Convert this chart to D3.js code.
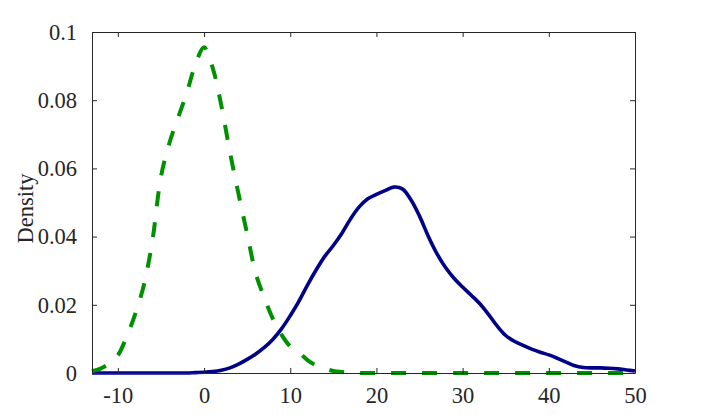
<!DOCTYPE html>
<html>
<head>
<meta charset="utf-8">
<script src="https://cdn.jsdelivr.net/npm/d3@7"></script>
<style>
  html, body { margin: 0; padding: 0; background: #fff; }
  svg { display: block; }
  svg text { font-family: "Liberation Serif", "Times New Roman", serif !important; fill: #262626; }
</style>
</head>
<body>
<svg id="chart" width="703" height="418"></svg>
<script>
// ---- data ----
const xGrid = [-13,-12,-11,-10,-9,-8,-7,-6,-5,-4,-3,-2,-1,0,1,2,3,4,5,6,7,8,9,10,
  11,12,13,14,15,16,17,18,19,20,21,22,23,24,25,26,27,28,29,30,31,32,33,34,35,36,37,38,39,40,
  41,42,43,44,45,46,47,48,49,50];

const blueDensity = [0,0,0,0,0,0,0,0,0,0,0,0,0.0001,0.0002,0.0004,0.0008,0.0015,0.0026,0.0040,0.0056,0.0075,0.0099,0.0130,0.0168,
  0.0210,0.0258,0.0302,0.0342,0.0374,0.0410,0.0452,0.0487,0.0511,0.0524,0.0535,0.0545,0.0540,0.0508,0.0460,0.0402,0.0351,0.0310,0.0278,0.0252,0.0228,0.0203,0.0172,0.0138,0.0110,0.0093,0.0081,0.0070,0.0061,0.0053,
  0.0043,0.0032,0.0021,0.0016,0.0015,0.0015,0.0014,0.0012,0.0009,0.0006];

const greenDensity = [0.0005,0.0013,0.0028,0.0052,0.0105,0.0172,0.0256,0.0387,0.0575,0.0676,0.0750,0.0822,0.0905,0.0955,0.0895,0.0785,0.0648,0.0525,0.0408,0.0292,0.0220,0.0158,0.0112,0.0078,
  0.0060,0.0038,0.0022,0.0013,0.0006,0.0003,0.0001,0,0,0,0,0,0,0,0,0,0,0,0,0,0,0,0,0,0,0,0,0,0,0,
  0,0,0,0,0,0,0,0,0,0];

const xTicks = [-10, 0, 10, 20, 30, 40, 50];
const yTicks = [0, 0.02, 0.04, 0.06, 0.08, 0.1];
const yLabel = "Density";

// ---- layout ----
const svg = d3.select("#chart");
const mL = 92, mR = 635, mT = 32, mB = 373;
const x = d3.scaleLinear().domain([-13, 50]).range([mL, mR]);
const y = d3.scaleLinear().domain([0, 0.1]).range([mB, mT]);
const axisColor = "#262626";
const fontSize = 22.5;
const serif = '"Liberation Serif", "Times New Roman", serif';

// curves
const line = (vals) => d3.line()
  .x((d, i) => x(xGrid[i]))
  .y((d) => y(d))
  .curve(d3.curveCatmullRom.alpha(0.5))(vals);

svg.append("path")
  .attr("d", line(blueDensity))
  .attr("fill", "none")
  .attr("stroke", "#000088")
  .attr("stroke-width", 3.6)
  .attr("stroke-linejoin", "round");

svg.append("path")
  .attr("d", line(greenDensity))
  .attr("fill", "none")
  .attr("stroke", "#009100")
  .attr("stroke-width", 4)
  .attr("stroke-dasharray", "15,16");

// axes (box with mirrored inward ticks)
const tickLen = 5;
const gB = svg.append("g").attr("transform", `translate(0,${mB})`)
  .call(d3.axisBottom(x).tickValues(xTicks).tickSizeInner(-tickLen).tickSizeOuter(0).tickPadding(14).tickFormat(d => d < 0 ? "-" + Math.abs(d) : String(d)));
const gT = svg.append("g").attr("transform", `translate(0,${mT})`)
  .call(d3.axisTop(x).tickValues(xTicks).tickSizeInner(-tickLen).tickSizeOuter(0).tickFormat(""));
const gL = svg.append("g").attr("transform", `translate(${mL},0)`)
  .call(d3.axisLeft(y).tickValues(yTicks).tickSizeInner(-tickLen).tickSizeOuter(0).tickPadding(15).tickFormat(d => d === 0 ? "0" : String(+d.toFixed(2))));
const gR = svg.append("g").attr("transform", `translate(${mR},0)`)
  .call(d3.axisRight(y).tickValues(yTicks).tickSizeInner(-tickLen).tickSizeOuter(0).tickFormat(""));

[gB, gT, gL, gR].forEach(g => {
  g.attr("font-family", serif).attr("font-size", fontSize);
  g.select(".domain").attr("stroke", axisColor).attr("stroke-width", 1);
  g.selectAll(".tick line").attr("stroke", axisColor).attr("stroke-width", 1);
  g.selectAll(".tick text")
    .attr("fill", axisColor)
    .attr("font-family", serif)
    .attr("font-size", fontSize);
});

svg.append("text")
  .attr("transform", `translate(33,${(mT + mB) / 2 + 6}) rotate(-90)`)
  .attr("text-anchor", "middle")
  .attr("font-family", serif)
  .attr("font-size", fontSize)
  .attr("fill", axisColor)
  .text(yLabel);
</script>
</body>
</html>
